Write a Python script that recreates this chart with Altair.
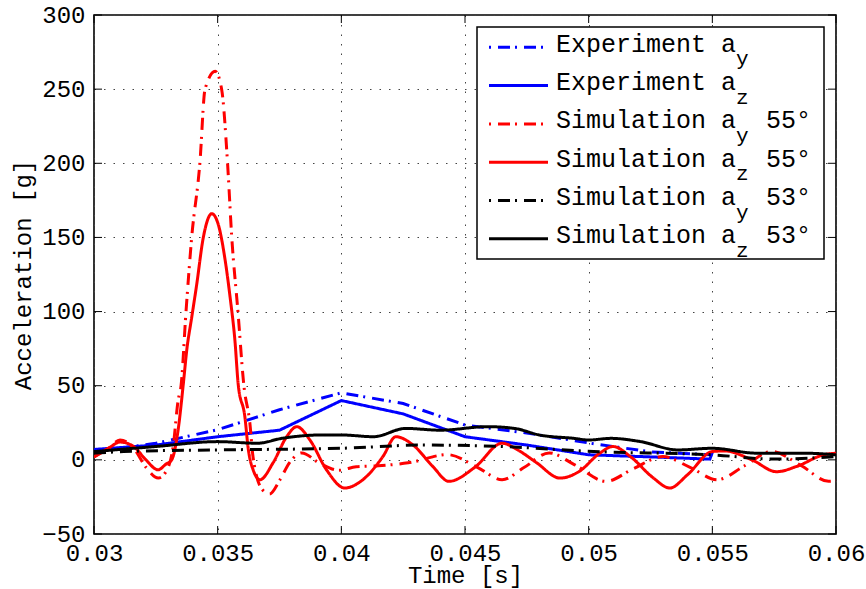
import altair as alt
import pandas as pd

FONT = "Liberation Mono"

X_TICKS = [0.03, 0.035, 0.04, 0.045, 0.05, 0.055, 0.06]
Y_TICKS = [-50, 0, 50, 100, 150, 200, 250, 300]

# ---- data ----
T_EXP_AY = [0.03, 0.0325, 0.035, 0.0375, 0.04, 0.0425, 0.045, 0.0475, 0.05, 0.0525, 0.055]
EXP_AY = [5.4, 11.2, 20.3, 33.8, 45.2, 38.0, 23.5, 18.1, 11.4, 5.4, 3.4]

T_EXP_AZ = [0.03, 0.0325, 0.035, 0.0375, 0.04, 0.0425, 0.045, 0.0475, 0.05, 0.0525, 0.0549, 0.055]
EXP_AZ = [7, 10, 15.6, 20, 40, 31, 15.6, 10, 3.4, 2, 0.5, 5]

T_SIM_AY55 = [0.03, 0.0306, 0.03105, 0.0316, 0.0321, 0.0326, 0.0330, 0.0332, 0.0334,
              0.03352, 0.03372, 0.03395, 0.03428, 0.03449, 0.0349, 0.03516, 0.0354,
              0.03557, 0.03582, 0.03606, 0.0363, 0.03643, 0.0368, 0.0371, 0.0375,
              0.0379, 0.0384, 0.0391, 0.0399, 0.0406, 0.0415, 0.0427, 0.0443, 0.0455,
              0.0465, 0.0474, 0.0484, 0.0494, 0.0507, 0.0518, 0.053, 0.0541, 0.0552,
              0.0563, 0.0574, 0.0586, 0.0597, 0.06]
SIM_AY55 = [2, 8, 13.4, 8, -5, -12.3, -5, 9, 40,
            50, 100, 150, 200, 250, 262, 250, 200,
            150, 100, 50, 25, 2, -20, -23, -14,
            -2, 4.7, -2, -7, -4.7, -4, -2, 3.5, -5,
            -13.4, -5, 4.7, -3, -14.5, -6, 2.2, -5, -13.4,
            -4, 5.6, -4, -14.5, -14]

T_SIM_AZ55 = [0.03, 0.0306, 0.03105, 0.0316, 0.0321, 0.03259, 0.0329, 0.03314, 0.0334,
              0.03361, 0.03375, 0.03395, 0.03415, 0.03442, 0.03476, 0.03502, 0.03529,
              0.0355, 0.0357, 0.03583, 0.0361, 0.03624, 0.03644, 0.03671, 0.03724,
              0.03779, 0.0382, 0.03873, 0.0394, 0.04014, 0.04087, 0.04168, 0.0422,
              0.0429, 0.0437, 0.04435, 0.0454, 0.0465, 0.0472, 0.0479, 0.04884,
              0.0496, 0.05045, 0.05098, 0.0517, 0.0526, 0.05328, 0.054, 0.055,
              0.0555, 0.0566, 0.0576, 0.0584, 0.0595, 0.06]
SIM_AZ55 = [2, 8, 12, 9, 0, -6.7, -3, 0, 20,
            51, 74, 96, 118, 150, 166, 159, 136,
            110, 80, 51, 29, 7, -7, -13.4, -2,
            15.6, 22.4, 13.4, -6.7, -19, -13.4, 2.2, 15.6,
            10, -4.5, -14.5, -5, 11.2, 6, -2, -12.3,
            -8, 4.5, 9, 2, -12, -19, -10, 5.6,
            6, 0, -8, -4.5, 3.4, 4.5]

T_SIM_AY53 = [0.03, 0.0312, 0.035, 0.04, 0.0433, 0.0465, 0.0502, 0.055, 0.0575, 0.06]
SIM_AY53 = [4.5, 5.6, 6.7, 7.8, 10, 9, 5.6, 3.4, 0.5, 2.2]

T_SIM_AZ53 = [0.03, 0.0325, 0.035, 0.0366, 0.0376, 0.0392, 0.04, 0.0413, 0.0426, 0.044,
              0.0459, 0.047, 0.048, 0.0494, 0.05, 0.0509, 0.0521, 0.0536, 0.055,
              0.0568, 0.0587, 0.06]
SIM_AZ53 = [5.6, 9, 12.3, 11.2, 14.5, 16.8, 16.8, 15.6, 21.2, 20,
            22.4, 21.2, 16.8, 14.5, 13.4, 14.5, 12.3, 6.7, 7.8,
            4.5, 4.5, 3.4]

LEG_MAIN = ["Experiment a", "Experiment a", "Simulation a", "Simulation a",
            "Simulation a", "Simulation a"]
LEG_SUB = ["y", "z", "y", "z", "y", "z"]
LEG_SUFFIX = ["", "", "55°", "55°", "53°", "53°"]

# ---- styles ----
BLUE, RED, BLACK = "#0000ff", "#ff0000", "#000000"
DASHDOT = [12, 5, 2, 7]
SOLID = [1, 0]

series = [
    (T_EXP_AY, EXP_AY, BLUE, DASHDOT, "linear"),
    (T_EXP_AZ, EXP_AZ, BLUE, SOLID, "linear"),
    (T_SIM_AY55, SIM_AY55, RED, DASHDOT, "monotone"),
    (T_SIM_AZ55, SIM_AZ55, RED, SOLID, "monotone"),
    (T_SIM_AY53, SIM_AY53, BLACK, DASHDOT, "monotone"),
    (T_SIM_AZ53, SIM_AZ53, BLACK, SOLID, "monotone"),
]

W, H = 742, 519
PAD_L, PAD_T = 94, 15
XMIN, XMAX, YMIN, YMAX = 0.03, 0.06, -50, 300
KX = W / (XMAX - XMIN)
KY = H / (YMAX - YMIN)


def tx(px):
    return XMIN + (px - PAD_L) / KX


def vy(py):
    return YMAX - (py - PAD_T) / KY


XS = alt.Scale(domain=[XMIN, XMAX], nice=False, zero=False)
YS = alt.Scale(domain=[YMIN, YMAX], nice=False, zero=False)
XA = alt.Axis(values=X_TICKS, format="~g", title="Time [s]", grid=True,
              labelPadding=7, titlePadding=-2, labelFlush=False, labelOverlap=False)
YA = alt.Axis(values=Y_TICKS, title="Acceleration [g]", grid=True,
              labelPadding=9, titlePadding=6, labelOverlap=False)


def X(field=None, datum=None):
    if field is not None:
        return alt.X(field, type="quantitative", scale=XS, axis=XA)
    return alt.XDatum(datum, type="quantitative", scale=XS, axis=XA)


def Y(field=None, datum=None):
    if field is not None:
        return alt.Y(field, type="quantitative", scale=YS, axis=YA)
    return alt.YDatum(datum, type="quantitative", scale=YS, axis=YA)


layers = []
for t, v, color, dash, interp in series:
    df = pd.DataFrame({"t": t, "v": v})
    layers.append(
        alt.Chart(df).mark_line(color=color, strokeWidth=3, strokeDash=dash,
                                clip=True, strokeCap="butt", interpolate=interp)
        .encode(x=X("t"), y=Y("v"), order="t:Q")
    )

# inward ticks (box on, MATLAB style)
TL = 8
xt = pd.DataFrame({"t": X_TICKS})
yt = pd.DataFrame({"v": Y_TICKS})
layers.append(alt.Chart(xt).mark_rule(color="black", strokeWidth=1)
              .encode(x=X("t"), y=Y(datum=YMIN), y2=alt.Y2Datum(YMIN + TL / KY)))
layers.append(alt.Chart(xt).mark_rule(color="black", strokeWidth=1)
              .encode(x=X("t"), y=Y(datum=YMAX), y2=alt.Y2Datum(YMAX - TL / KY)))
layers.append(alt.Chart(yt).mark_rule(color="black", strokeWidth=1)
              .encode(y=Y("v"), x=X(datum=XMIN), x2=alt.X2Datum(XMIN + TL / KX)))
layers.append(alt.Chart(yt).mark_rule(color="black", strokeWidth=1)
              .encode(y=Y("v"), x=X(datum=XMAX), x2=alt.X2Datum(XMAX - TL / KX)))

# legend box
box = pd.DataFrame({"x1": [tx(477)], "x2": [tx(824)], "y1": [vy(27)], "y2": [vy(259)]})
layers.append(alt.Chart(box).mark_rect(fill="white", stroke="black", strokeWidth=1.5)
              .encode(x=X("x1"), x2="x2:Q", y=Y("y1"), y2="y2:Q"))

ROW0, ROWSTEP = 47.3, 38.3
LFS = 25
CW = 0.6 * LFS
for i, (t, v, color, dash, interp) in enumerate(series):
    ry = ROW0 + i * ROWSTEP
    d = pd.DataFrame({"a": [tx(489)], "b": [tx(548)], "y": [vy(ry)]})
    layers.append(alt.Chart(d).mark_rule(color=color, strokeWidth=3, strokeDash=dash,
                                         strokeDashOffset=17 if dash == DASHDOT else 0,
                                         strokeCap="butt")
                  .encode(x=X("a"), x2="b:Q", y=Y("y")))

rows = pd.DataFrame({
    "main": LEG_MAIN,
    "sub": LEG_SUB,
    "suf": LEG_SUFFIX,
    "xm": [tx(556)] * 6,
    "xs": [tx(556 + 12 * CW)] * 6,
    "xf": [tx(556 + 14 * CW)] * 6,
    "ym": [vy(ROW0 + i * ROWSTEP + 4.5) for i in range(6)],
    "ys": [vy(ROW0 + i * ROWSTEP + 18) for i in range(6)],
})
tprops = dict(font=FONT, align="left", baseline="alphabetic", color="black")
layers.append(alt.Chart(rows).mark_text(fontSize=LFS, **tprops)
              .encode(x=X("xm"), y=Y("ym"), text="main:N"))
layers.append(alt.Chart(rows).mark_text(fontSize=21, **tprops)
              .encode(x=X("xs"), y=Y("ys"), text="sub:N"))
layers.append(alt.Chart(rows).mark_text(fontSize=LFS, **tprops)
              .encode(x=X("xf"), y=Y("ym"), text="suf:N"))

chart = (
    alt.layer(*layers)
    .properties(width=W, height=H,
                autosize=alt.AutoSizeParams(type="none"),
                padding={"left": PAD_L, "top": PAD_T, "right": 866 - PAD_L - W,
                         "bottom": 589 - PAD_T - H},
                background="white")
    .configure_view(stroke="black", strokeWidth=1.6)
    .configure_axis(
        domain=False, ticks=False, labelFont=FONT, labelFontSize=24, labelColor="black",
        titleFont=FONT, titleFontSize=24, titleFontWeight="normal", titleColor="black",
        gridColor="#444444", gridDash=[1.5, 8], gridWidth=1, gridOpacity=1,
    )
)

chart.save("out.html", embed_options={"renderer": "svg", "actions": False})
